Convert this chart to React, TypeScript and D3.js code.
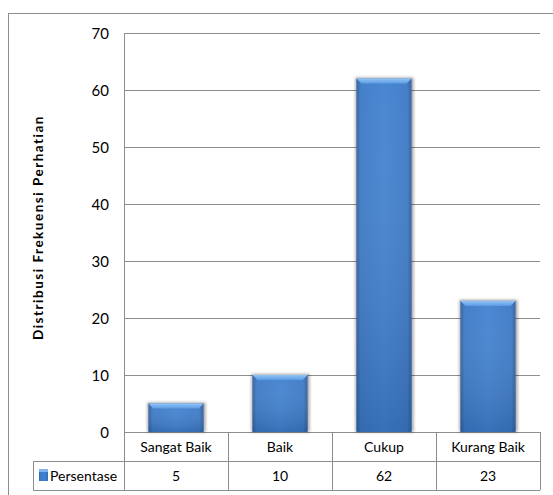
import React from "react";
import * as d3 from "d3";

// Attention distribution by category (percent)
const categories = ["Sangat Baik", "Baik", "Cukup", "Kurang Baik"];
const persentase = [5, 10, 62, 23];
const yTicks = [0, 10, 20, 30, 40, 50, 60, 70];
const seriesName = "Persentase";
const yTitle = "Distribusi Frekuensi Perhatian";

const W = 553;
const H = 495;
const left = 124;
const right = 540;
const top = 33;
const bottom = 432;
const rowH = 29;
const legendLeft = 33;
const font = "Lato, 'Open Sans', sans-serif";
const lineColor = "#8e8e8e";

export default function App() {
  const x = d3.scaleBand<string>().domain(categories).range([left, right]).padding(0);
  const y = d3.scaleLinear().domain([0, 70]).range([bottom, top]);
  const bw = x.bandwidth() * 0.53;
  const bevel = 5;

  return (
    <svg width={W} height={H} style={{ position: "absolute", left: 0, top: 0 }}>
      <defs>
        <linearGradient id="barBody" x1="0" x2="1" y1="0" y2="0">
          <stop offset="0" stopColor="#2c5d9e" />
          <stop offset="0.08" stopColor="#3b78c6" />
          <stop offset="0.5" stopColor="#4081d0" />
          <stop offset="0.92" stopColor="#3b78c6" />
          <stop offset="1" stopColor="#2c5d9e" />
        </linearGradient>
        <linearGradient id="barShade" x1="0" x2="0" y1="0" y2="1">
          <stop offset="0" stopColor="#ffffff" stopOpacity="0.05" />
          <stop offset="1" stopColor="#1d3f6e" stopOpacity="0.25" />
        </linearGradient>
        <linearGradient id="barTop" x1="0" x2="0" y1="0" y2="1">
          <stop offset="0" stopColor="#92c4f7" />
          <stop offset="1" stopColor="#5b9be3" />
        </linearGradient>
        <filter id="shadow" x="-20%" y="-20%" width="140%" height="140%">
          <feGaussianBlur stdDeviation="1.5" />
        </filter>
      </defs>

      {/* outer frame */}
      <line x1={8.5} x2={8.5} y1={13} y2={H} stroke={lineColor} />
      <line x1={8} x2={W} y1={13.5} y2={13.5} stroke={lineColor} />

      {/* gridlines */}
      {yTicks.map((t) => (
        <line key={t} x1={left} x2={right} y1={Math.round(y(t)) + 0.5} y2={Math.round(y(t)) + 0.5} stroke={lineColor} />
      ))}
      <line x1={left + 0.5} x2={left + 0.5} y1={top} y2={bottom + 2 * rowH} stroke={lineColor} />

      {/* tick labels */}
      {yTicks.map((t) => (
        <text key={t} x={109} y={y(t) + 5.5} textAnchor="end" fontFamily={font} fontSize={15} fill="#000">
          {t}
        </text>
      ))}

      {/* axis title */}
      <text
        transform={`translate(43,${(top + bottom) / 2 - 5}) rotate(-90)`}
        textAnchor="middle"
        fontFamily={font}
        fontSize={13.5}
        fontWeight="bold"
        letterSpacing={1.5}
        fill="#000"
      >
        {yTitle}
      </text>

      {/* bars */}
      {categories.map((c, i) => {
        const cx = (x(c) as number) + x.bandwidth() / 2;
        const x0 = cx - bw / 2;
        const yt = y(persentase[i]);
        const h = bottom - yt;
        return (
          <g key={c}>
            <rect x={x0 - 1} y={yt - 1} width={bw + 3} height={h + 1} fill="#000" opacity={0.35} filter="url(#shadow)" />
            <rect x={x0} y={yt} width={bw} height={h} fill="url(#barBody)" />
            <rect x={x0} y={yt} width={bw} height={h} fill="url(#barShade)" />
            <path
              d={`M${x0},${yt} L${x0 + bw},${yt} L${x0 + bw - bevel},${yt + bevel} L${x0 + bevel},${yt + bevel} Z`}
              fill="url(#barTop)"
            />
          </g>
        );
      })}

      {/* data table */}
      <line x1={legendLeft} x2={right} y1={bottom + rowH + 0.5} y2={bottom + rowH + 0.5} stroke={lineColor} />
      <line x1={legendLeft} x2={right} y1={bottom + 2 * rowH + 0.5} y2={bottom + 2 * rowH + 0.5} stroke={lineColor} />
      <line x1={legendLeft + 0.5} x2={legendLeft + 0.5} y1={bottom + rowH} y2={bottom + 2 * rowH} stroke={lineColor} />
      {categories.map((c) => {
        const xr = Math.round((x(c) as number) + x.bandwidth()) + 0.5;
        return <line key={c} x1={xr} x2={xr} y1={bottom} y2={bottom + 2 * rowH} stroke={lineColor} />;
      })}
      {categories.map((c, i) => {
        const cx = (x(c) as number) + x.bandwidth() / 2;
        return (
          <g key={c}>
            <text x={cx} y={bottom + 20} textAnchor="middle" fontFamily={font} fontSize={14} fill="#000">
              {c}
            </text>
            <text x={cx} y={bottom + rowH + 20} textAnchor="middle" fontFamily={font} fontSize={14} fill="#000">
              {persentase[i]}
            </text>
          </g>
        );
      })}
      <rect x={39} y={469} width={9} height={12} fill="url(#barBody)" />
      <rect x={39} y={469} width={9} height={3} fill="#7fb4f0" />
      <text x={50} y={bottom + rowH + 20} fontFamily={font} fontSize={14} fill="#000">
        {seriesName}
      </text>
    </svg>
  );
}
